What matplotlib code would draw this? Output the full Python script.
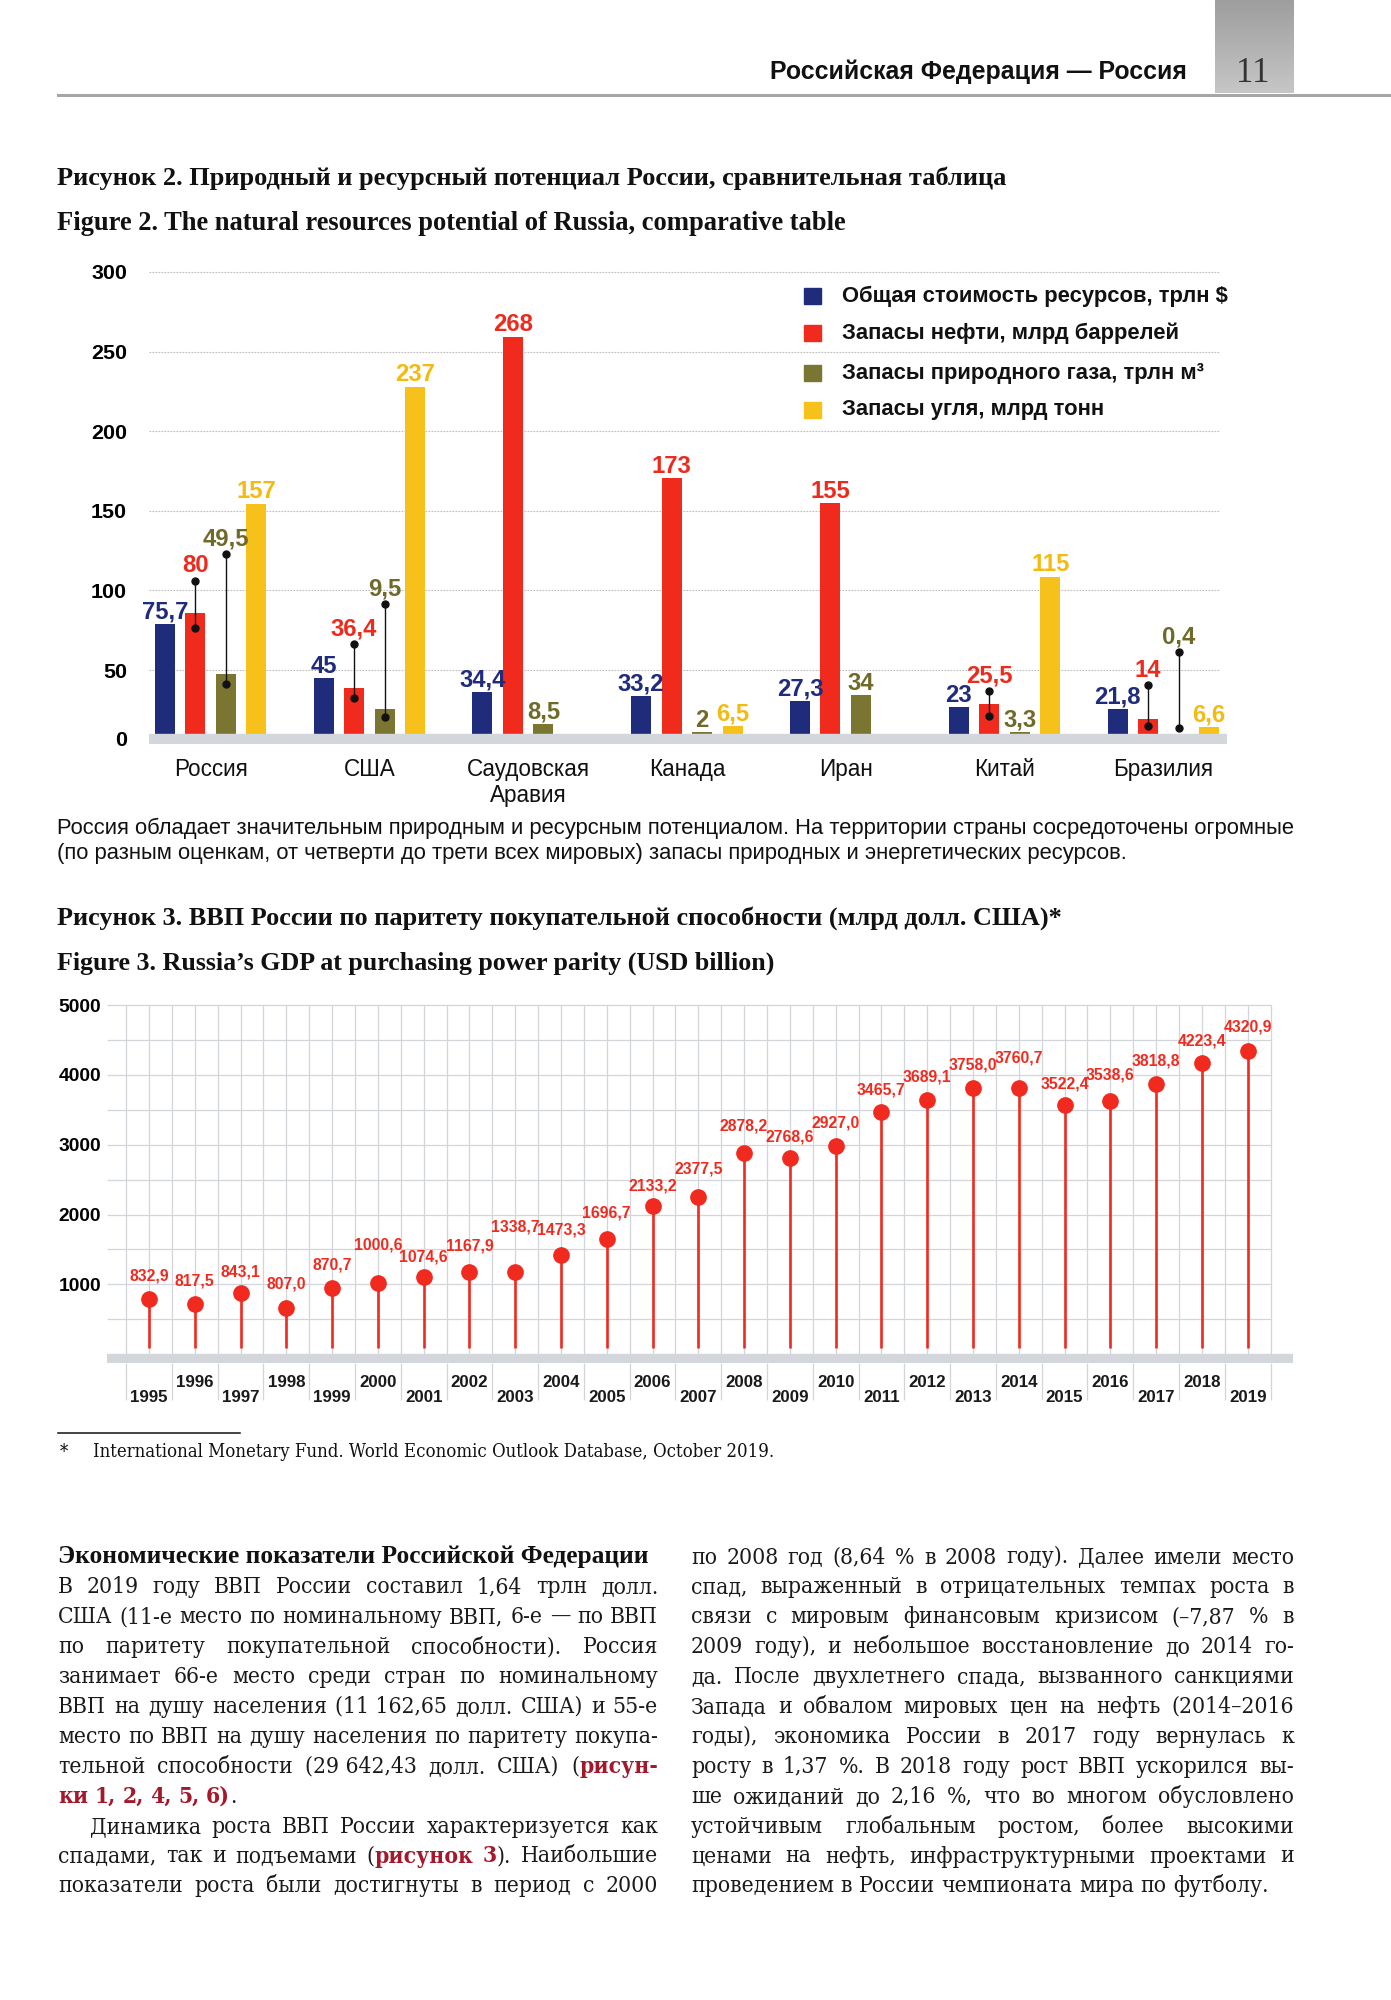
import numpy as np
import matplotlib
matplotlib.use('Agg')
import matplotlib.pyplot as plt
from matplotlib import font_manager
from matplotlib.lines import Line2D
from matplotlib.patches import Rectangle
from matplotlib.colors import LinearSegmentedColormap

SANS = ['Liberation Sans', 'DejaVu Sans']
plt.rcParams['font.family'] = SANS
TIMES = dict(family=['Liberation Serif', 'DejaVu Serif'])

# condensed serif for body text if installed, else Times-like
cond = [f.stretch for f in font_manager.fontManager.ttflist
        if f.name == 'DejaVu Serif' and f.stretch != 'normal']
if cond:
    SERIF = dict(family=['DejaVu Serif'], fontstretch=cond[0])
else:
    SERIF = TIMES

# ---- Figure 2: natural resources ----
countries = ['Россия', 'США', 'Саудовская\nАравия', 'Канада', 'Иран', 'Китай', 'Бразилия']
series_names = ['Общая стоимость ресурсов, трлн $', 'Запасы нефти, млрд баррелей',
                'Запасы природного газа, трлн м³', 'Запасы угля, млрд тонн']
# printed values
total_lbl = ['75,7', '45', '34,4', '33,2', '27,3', '23', '21,8']
oil_lbl = ['80', '36,4', '268', '173', '155', '25,5', '14']
gas_lbl = ['49,5', '9,5', '8,5', '2', '34', '3,3', '0,4']
coal_lbl = ['157', '237', '', '6,5', '', '115', '6,6']
# bar heights as drawn on the axis scale
total_bar = [79.1, 44.8, 36.3, 33.6, 30.7, 26.5, 25.3]
oil_bar = [85.9, 38.6, 259.2, 170.4, 154.7, 28.7, 19.1]
gas_bar = [47.5, 25.8, 16.1, 10.8, 34.3, 10.8, 0.0]
coal_bar = [154.3, 228.0, 0.0, 14.6, 0.0, 108.7, 14.1]
# leader lines (series, country): (top, bottom)
leaders = {(1, 0): (106, 76.2), (2, 0): (122.9, 41), (1, 1): (66.1, 32.5),
           (2, 1): (91.3, 20.2), (1, 5): (37, 21.3), (1, 6): (40.4, 15), (2, 6): (61.2, 13.5)}

# ---- Figure 3: GDP PPP ----
years = list(range(1995, 2020))
gdp_lbl = ['832,9', '817,5', '843,1', '807,0', '870,7', '1000,6', '1074,6', '1167,9', '1338,7',
           '1473,3', '1696,7', '2133,2', '2377,5', '2878,2', '2768,6', '2927,0', '3465,7',
           '3689,1', '3758,0', '3760,7', '3522,4', '3538,6', '3818,8', '4223,4', '4320,9']
gdp_drawn = [790, 719, 871, 667, 952, 1014, 1110, 1181, 1181, 1419, 1648, 2124, 2250, 2881,
             2810, 2986, 3462, 3643, 3810, 3810, 3571, 3633, 3871, 4176, 4343]
label_lift = [23, 23, 21, 24, 23, 38, 20, 26, 45, 25, 26, 20, 28, 27, 21, 23, 22, 23, 23, 30,
              21, 26, 23, 22, 24]

left_col = [
    "В 2019 году ВВП России составил 1,64 трлн долл.",
    "США (11-е место по номинальному ВВП, 6-е — по ВВП",
    "по паритету покупательной способности). Россия",
    "занимает 66-е место среди стран по номинальному",
    "ВВП на душу населения (11\u00a0162,65 долл. США) и 55-е",
    "место по ВВП на душу населения по паритету покупа-",
    "тельной способности (29\u00a0642,43 долл. США) (*рисун-*",
    "*ки 1, 2, 4, 5, 6)*.",
    "Динамика роста ВВП России характеризуется как",
    "спадами, так и подъемами (*рисунок 3*). Наибольшие",
    "показатели роста были достигнуты в период с 2000",
]
left_just = [True, True, True, True, True, True, True, False, True, True, True]
right_col = [
    "по 2008 год (8,64 % в 2008 году). Далее имели место",
    "спад, выраженный в отрицательных темпах роста в",
    "связи с мировым финансовым кризисом (–7,87 % в",
    "2009 году), и небольшое восстановление до 2014 го-",
    "да. После двухлетнего спада, вызванного санкциями",
    "Запада и обвалом мировых цен на нефть (2014–2016",
    "годы), экономика России в 2017 году вернулась к",
    "росту в 1,37 %. В 2018 году рост ВВП ускорился вы-",
    "ше ожиданий до 2,16 %, что во многом обусловлено",
    "устойчивым глобальным ростом, более высокими",
    "ценами на нефть, инфраструктурными проектами и",
    "проведением в России чемпионата мира по футболу.",
]

W, H = 1391, 2000
fig = plt.figure(figsize=(W / 100, H / 100), dpi=100)
fig.patch.set_facecolor('white')
renderer = fig.canvas.get_renderer()


def fx(x):
    return x / W


def fy(y):
    return 1 - y / H


def px_rect(x0, y0, x1, y1):
    return [x0 / W, 1 - y1 / H, (x1 - x0) / W, (y1 - y0) / H]


def width_of(s, size, **kw):
    t = fig.text(0, 0, s, fontsize=size, **kw)
    w = t.get_window_extent(renderer).width
    t.remove()
    return w


def fit_size(s, target, **kw):
    return 20 * target / width_of(s, 20, **kw)


# header
box = fig.add_axes(px_rect(1215, 0, 1294, 93))
grad = np.linspace(0, 1, 100).reshape(-1, 1)
box.imshow(grad, aspect='auto', cmap=LinearSegmentedColormap.from_list('g', ['#9e9e9e', '#c6c6c6']))
box.axis('off')
fig.text(fx(1253), fy(74), '11', ha='center', va='center', fontsize=25, color='#333333', **TIMES)
fig.add_artist(Line2D([fx(58), 1], [fy(95), fy(95)], color='#a4a6a9', lw=2.2))
hs = 'Российская Федерация — Россия'
fig.text(fx(1187), fy(72), hs, ha='right', va='center', weight='bold',
         fontsize=fit_size(hs, 417, weight='bold'), color='#111111')

# titles
titles = [('Рисунок 2. Природный и ресурсный потенциал России, сравнительная таблица', 178.5, 952),
          ('Figure 2. The natural resources potential of Russia, comparative table', 223, 790),
          ('Рисунок 3. ВВП России по паритету покупательной способности (млрд долл. США)*', 918, 1006),
          ('Figure 3. Russia\u2019s GDP at purchasing power parity (USD billion)', 963, 719)]
for s, y, w in titles:
    fig.text(fx(57), fy(y), s, ha='left', va='center', weight='bold',
             fontsize=fit_size(s, w, weight='bold', **TIMES), color='#111111', **TIMES)

# ---- chart 1 ----
c_bar = ['#1f2b7b', '#f02a1d', '#7a7531', '#f6c11b']
c_txt = ['#1f2b7b', '#ee2a1c', '#6f6a29', '#f3bb12']
ax1 = fig.add_axes(px_rect(149, 268.8, 1227, 744.2))
x = np.arange(len(countries))
bw, step = 0.126, 0.192
val_fs = fit_size('268', 40, weight='bold')
bars = [total_bar, oil_bar, gas_bar, coal_bar]
lbls = [total_lbl, oil_lbl, gas_lbl, coal_lbl]
ax1.hlines(np.arange(50, 301, 50), -0.3873, 6.357, colors='#bcbcbc', lw=0.8,
           linestyles=(0, (1.5, 1.2)), zorder=1)
for k in range(4):
    xs = x + (k - 1.5) * step
    ax1.bar(xs, bars[k], width=bw, color=c_bar[k], zorder=2)
    for i in range(len(x)):
        if lbls[k][i] == '':
            continue
        if (k, i) in leaders:
            top, bot = leaders[(k, i)]
            ax1.plot([xs[i], xs[i]], [bot, top], color='#111111', lw=1.0, marker='o', ms=5, zorder=5)
            anchor, off = top, 15
        else:
            anchor, off = bars[k][i], 12
        ax1.annotate(lbls[k][i], (xs[i], anchor), xytext=(0, off * 0.72), textcoords='offset points',
                     ha='center', va='center', color=c_txt[k], fontsize=val_fs, weight='bold', zorder=6)
ax1.axhspan(3.4, 10, color='#d3d6da', zorder=3)
ax1.set_xlim(-0.3873, 6.401)
ax1.set_ylim(3.4, 302)
ax1.set_xticks([])
ax1.set_yticks([6.7, 50, 100, 150, 200, 250, 300])
ytk_fs = fit_size('300', 36, weight='bold')
ax1.set_yticklabels(['0', '50', '100', '150', '200', '250', '300'], fontsize=ytk_fs, weight='bold')
ax1.tick_params(axis='y', length=0, pad=15.8)
for sp in ax1.spines.values():
    sp.set_visible(False)
cat_fs = fit_size('Саудовская', 123)
for i, c in enumerate(countries):
    for j, ln in enumerate(c.split('\n')):
        ax1.text(i, -12.8 - 16.3 * j, ln, ha='center', va='center', fontsize=cat_fs,
                 color='#111111', clip_on=False)

leg_fs = fit_size(series_names[0], 385, weight='bold')
for j, (name, col) in enumerate(zip(series_names, c_bar)):
    row = [296, 333, 373, 410][j]
    fig.add_artist(Rectangle((fx(804), fy(row + 8)), 17 / W, 16 / H, color=col, transform=fig.transFigure))
    fig.text(fx(842), fy(row), name, ha='left', va='center', weight='bold', fontsize=leg_fs, color='#111111')

cap1 = 'Россия обладает значительным природным и ресурсным потенциалом. На территории страны сосредоточены огромные'
cap2 = '(по разным оценкам, от четверти до трети всех мировых) запасы природных и энергетических ресурсов.'
cap_fs = fit_size(cap1, 1237)
fig.text(fx(57), fy(828), cap1, ha='left', va='center', fontsize=cap_fs, color='#111111')
fig.text(fx(57), fy(853), cap2, ha='left', va='center', fontsize=cap_fs, color='#111111')

# ---- chart 2 ----
red = '#f02a1e'
grid_c = '#d2d6da'
ax2 = fig.add_axes(px_rect(107, 1004, 1293, 1362.6))
ax2.set_xlim(1994.083, 2019.99)
ax2.set_ylim(-120, 5015)
ax2.hlines(np.arange(500, 5001, 500), 1994.083, 2019.52, colors=grid_c, lw=0.9, zorder=1)
ax2.vlines(np.arange(1994.5, 2019.6, 0.5), 0, 5000, colors=grid_c, lw=0.9, zorder=1)
ax2.axhspan(-120, 0, color='#d3d6da', zorder=2)
ax2.vlines(years, 90, gdp_drawn, colors=red, lw=1.9, zorder=3)
ax2.plot(years, gdp_drawn, 'o', ms=11, color=red, zorder=4)
for yr, v, s, lift in zip(years, gdp_drawn, gdp_lbl, label_lift):
    ax2.annotate(s, (yr, v), xytext=(0, lift * 0.72), textcoords='offset points', ha='center',
                 va='center', color=red, fontsize=11.3, weight='bold', zorder=5)
for yr in years:
    ax2.text(yr, -412 if yr % 2 == 0 else -613, str(yr), ha='center', va='center', fontsize=12.2,
             weight='bold', color='#1a1a1a', clip_on=False)
sep = ax2.vlines(np.arange(1994.5, 2019.6, 1), -126, -656, colors=grid_c, lw=0.9)
sep.set_clip_on(False)
ax2.set_xticks([])
ax2.set_yticks([1000, 2000, 3000, 4000, 5000])
ax2.set_yticklabels(['1000', '2000', '3000', '4000', '5000'],
                    fontsize=fit_size('5000', 43, weight='bold'), weight='bold')
ax2.tick_params(axis='y', length=0, pad=4.3)
for sp in ax2.spines.values():
    sp.set_visible(False)

# footnote
fig.add_artist(Line2D([fx(58), fx(240)], [fy(1433), fy(1433)], color='#111111', lw=1.1))
fn = 'International Monetary Fund. World Economic Outlook Database, October 2019.'
fn_fs = fit_size(fn, 680, **SERIF)
fig.text(fx(60), fy(1452), '*', ha='left', va='center', fontsize=fn_fs, color='#111111', **SERIF)
fig.text(fx(93), fy(1452), fn, ha='left', va='center', fontsize=fn_fs, color='#111111', **SERIF)

# ---- body text ----
body_c = '#1a1a1a'
emph_c = '#a3182b'
body_fs = fit_size('место по ВВП на душу населения по паритету покупа-', 594, **SERIF)


def parse_words(line, state):
    words, cur, piece = [], [], ''
    for ch in line:
        if ch == '*':
            if piece:
                cur.append((piece, state))
            piece, state = '', not state
        elif ch == ' ':
            if piece:
                cur.append((piece, state))
            if cur:
                words.append(cur)
            cur, piece = [], ''
        else:
            piece += ch
    if piece:
        cur.append((piece, state))
    if cur:
        words.append(cur)
    return words, state


space_w = width_of('н н', body_fs, **SERIF) - width_of('нн', body_fs, **SERIF)


def draw_column(lines, justs, x0, x1, y0, indents):
    state = False
    for k, line in enumerate(lines):
        words, state = parse_words(line, state)
        widths = []
        for w in words:
            ww = 0
            for s, em in w:
                ww += width_of(s, body_fs, weight='bold' if em else 'normal', **SERIF)
            widths.append(ww)
        start = x0 + indents.get(k, 0)
        if justs[k] and len(words) > 1:
            gap = (x1 - start - sum(widths)) / (len(words) - 1)
        else:
            gap = space_w
        xp = start
        yb = y0 + 29.9 * k
        for w, ww in zip(words, widths):
            xq = xp
            for s, em in w:
                t = fig.text(fx(xq), fy(yb), s, ha='left', va='baseline', fontsize=body_fs,
                             weight='bold' if em else 'normal', color=emph_c if em else body_c, **SERIF)
                xq += t.get_window_extent(renderer).width
            xp += ww + gap


head = 'Экономические показатели Российской Федерации'
fig.text(fx(58), fy(1563.5), head, ha='left', va='baseline', weight='bold',
         fontsize=fit_size(head, 590, weight='bold', **TIMES), color='#111111', **TIMES)
draw_column(left_col, left_just, 58, 658, 1563.5 + 29.9, {8: 32})
draw_column(right_col, [True] * 11 + [False], 691, 1294, 1563.5, {})

fig.savefig('out.png', dpi=100, facecolor='white')
